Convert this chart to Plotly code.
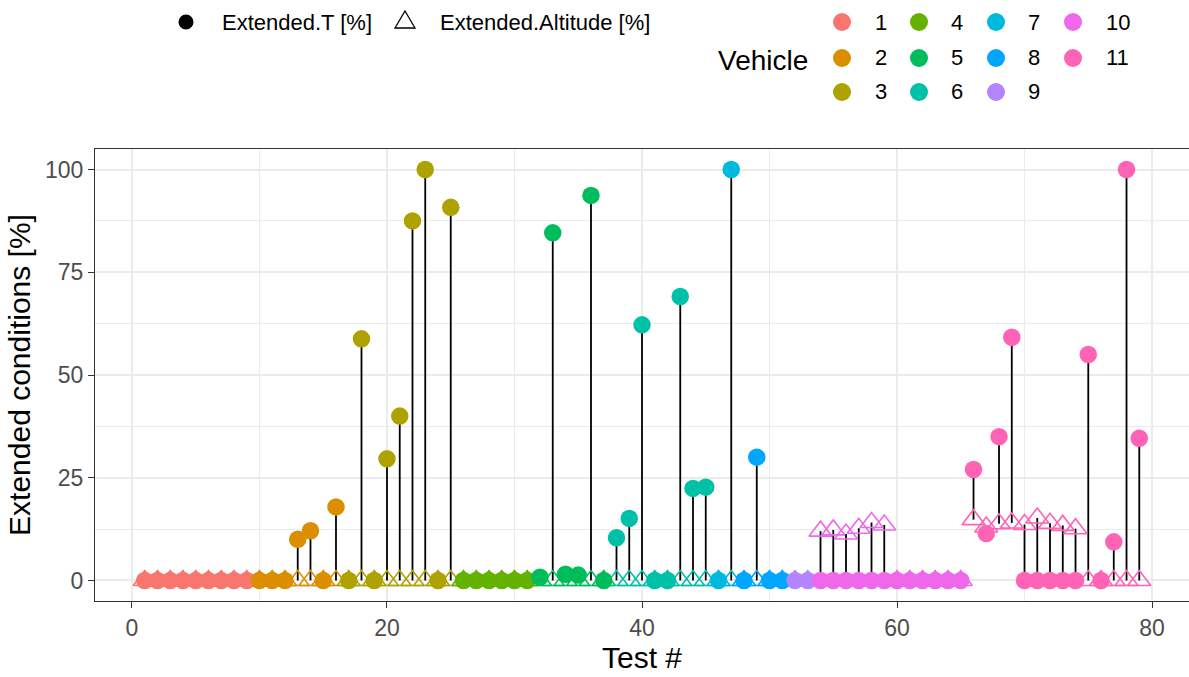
import plotly.graph_objects as go

# ---- data -----------------------------------------------------------------
vehicle_ids = ["1", "2", "3", "4", "5", "6", "7", "8", "9", "10", "11"]
vehicle_colors = ["#F8766D", "#DB8E00", "#AEA200", "#64B200", "#00BD5C", "#00C1A7",
                  "#00BADE", "#00A6FF", "#B385FF", "#EF67EB", "#FF63B6"]

# number of consecutive tests run by each vehicle (tests are numbered 1..79)
tests_per_vehicle = [9, 7, 9, 6, 6, 8, 2, 4, 2, 12, 14]

# Extended.T [%] for each test
ext_t = [
    0, 0, 0, 0, 0, 0, 0, 0, 0,                       # vehicle 1
    0, 0, 0, 10.0, 12.1, 0, 17.9,                     # vehicle 2
    0, 58.8, 0, 29.6, 40.0, 87.5, 100, 0, 90.8,       # vehicle 3
    0, 0, 0, 0, 0, 0,                                 # vehicle 4
    0.8, 84.6, 1.5, 1.3, 93.7, 0,                     # vehicle 5
    10.4, 15.1, 62.2, 0, 0, 69.1, 22.4, 22.7,         # vehicle 6
    0, 100,                                           # vehicle 7
    0, 30.0, 0, 0,                                    # vehicle 8
    0, 0,                                             # vehicle 9
    0, 0, 0, 0, 0, 0, 0, 0, 0, 0, 0, 0,               # vehicle 10
    27.0, 11.4, 35.0, 59.2, 0, 0, 0, 0, 0, 55.0, 0, 9.4, 100, 34.6,  # vehicle 11
]

# Extended.Altitude [%] for each test
ext_alt = [
    0, 0, 0, 0, 0, 0, 0, 0, 0,
    0, 0, 0, 0, 0, 0, 0,
    0, 0, 0, 0, 0, 0, 0, 0, 0,
    0, 0, 0, 0, 0, 0,
    0, 0, 0, 0, 0, 0,
    0, 0, 0, 0, 0, 0, 0, 0,
    0, 0,
    0, 0, 0, 0,
    0, 0,
    12.0, 12.3, 11.3, 12.7, 14.1, 13.5, 0, 0, 0, 0, 0, 0,
    14.8, 13.0, 13.8, 14.0, 13.6, 15.2, 13.9, 13.4, 12.6, 0, 0, 0, 0, 0,
]

x_ticks = [0, 20, 40, 60, 80]
y_ticks = [0, 25, 50, 75, 100]

# ---- derived --------------------------------------------------------------
tests = list(range(1, len(ext_t) + 1))
vehicle_of_test = []
for vid, n in zip(vehicle_ids, tests_per_vehicle):
    vehicle_of_test += [vid] * n

FONT = "Liberation Sans, Arial, Helvetica, sans-serif"
W, H = 1189, 677
L, R, T, B = 95, 1189, 149, 601   # plotting panel edges in pixels


def fx(xpix):
    return (xpix - L) / (R - L)


def fy(ypix):
    return (B - ypix) / (B - T)


fig = go.Figure()

# vertical connectors between the two measurements of each test
seg_x, seg_y = [], []
for t, a, b in zip(tests, ext_t, ext_alt):
    seg_x += [t, t, None]
    seg_y += [a, b, None]
fig.add_trace(go.Scatter(x=seg_x, y=seg_y, mode="lines",
                         line=dict(color="black", width=1.8),
                         hoverinfo="skip", showlegend=False))

# altitude (open triangles) then temperature (filled circles), per vehicle
for vid, col in zip(vehicle_ids, vehicle_colors):
    xs = [t for t, v in zip(tests, vehicle_of_test) if v == vid]
    ya = [a for a, v in zip(ext_alt, vehicle_of_test) if v == vid]
    fig.add_trace(go.Scatter(x=xs, y=ya, mode="markers", name=vid,
                             marker=dict(symbol="triangle-up-open", size=20,
                                         color=col, line=dict(width=1.6, color=col)),
                             showlegend=False))
for vid, col in zip(vehicle_ids, vehicle_colors):
    xs = [t for t, v in zip(tests, vehicle_of_test) if v == vid]
    yt = [a for a, v in zip(ext_t, vehicle_of_test) if v == vid]
    fig.add_trace(go.Scatter(x=xs, y=yt, mode="markers", name=vid,
                             marker=dict(symbol="circle", size=17.5, color=col,
                                         line=dict(width=0)),
                             showlegend=False))

# ---- legends (drawn as keys + labels above the panel) -----------------------
shapes, annots = [], []


def dot(cx, cy, d, color):
    shapes.append(dict(type="circle", xref="paper", yref="paper",
                       xsizemode="pixel", ysizemode="pixel",
                       xanchor=fx(cx), yanchor=fy(cy),
                       x0=-d / 2, x1=d / 2, y0=-d / 2, y1=d / 2,
                       fillcolor=color, line=dict(width=0)))


def label(x, y, text, size=22, xanchor="left"):
    annots.append(dict(x=fx(x), y=fy(y), xref="paper", yref="paper", text=text,
                       showarrow=False, xanchor=xanchor, yanchor="middle",
                       font=dict(family=FONT, size=size, color="black")))


# measurement legend
dot(186, 22, 15, "black")
label(220, 22, "Extended.T [%]")
shapes.append(dict(type="path", xref="paper", yref="paper",
                   xsizemode="pixel", ysizemode="pixel",
                   xanchor=fx(405), yanchor=fy(21),
                   path="M-10,-7 L10,-7 L0,10 Z",
                   line=dict(color="black", width=1.3), fillcolor="rgba(0,0,0,0)"))
label(438, 22, "Extended.Altitude [%]")

# vehicle legend, filled column by column
label(716, 60, "Vehicle", size=28)
col_key_x = [842, 919, 996, 1073]
col_lab_x = [873, 949, 1026, 1104]
row_y = [22, 58, 92]
for i, (vid, col) in enumerate(zip(vehicle_ids, vehicle_colors)):
    c, r = divmod(i, 3)
    dot(col_key_x[c], row_y[r], 18, col)
    label(col_lab_x[c], row_y[r], vid)

axis_common = dict(showline=True, linecolor="#333333", linewidth=1.2, mirror=True,
                   ticks="outside", ticklen=6, tickwidth=1.2, tickcolor="#333333",
                   tickfont=dict(family=FONT, size=23, color="#4D4D4D"),
                   showgrid=True, gridcolor="#EBEBEB", gridwidth=1.5, zeroline=False)

fig.update_layout(
    width=W, height=H,
    margin=dict(l=L, r=W - R, t=T, b=H - B, pad=0),
    paper_bgcolor="white", plot_bgcolor="white",
    font=dict(family=FONT),
    showlegend=False,
    shapes=shapes, annotations=annots,
    xaxis=dict(range=[-2.9, 82.9], tickvals=x_ticks,
               minor=dict(dtick=10, tick0=0, showgrid=True, gridcolor="#EBEBEB",
                          gridwidth=0.8, ticks=""),
               title=dict(text="Test #", font=dict(family=FONT, size=30, color="black"),
                          standoff=5),
               **axis_common),
    yaxis=dict(range=[-5, 105], tickvals=y_ticks,
               minor=dict(dtick=12.5, tick0=0, showgrid=True, gridcolor="#EBEBEB",
                          gridwidth=0.8, ticks=""),
               title=dict(text="Extended conditions [%]",
                          font=dict(family=FONT, size=30, color="black"), standoff=5),
               **axis_common),
)

fig.write_html("out.html")
